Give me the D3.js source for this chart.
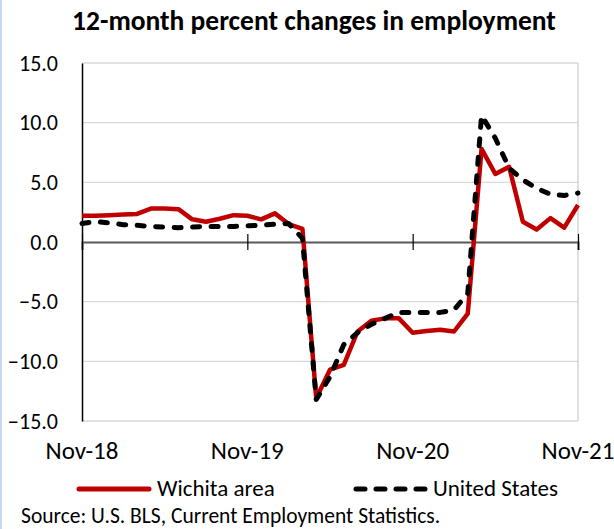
<!DOCTYPE html>
<html>
<head>
<meta charset="utf-8">
<title>12-month percent changes in employment</title>
<script src="https://d3js.org/d3.v7.min.js"></script>
<style>
  body { margin: 0; background: #fff; }
  text { font-family: Carlito, Calibri, Lato, sans-serif; fill: #000; }
</style>
</head>
<body>
<svg width="614" height="529"></svg>
<script>
// months Nov-18 .. Nov-21
var months = d3.range(37);
var tickMonths = [0, 12, 24, 36];
var tickLabels = ["Nov-18", "Nov-19", "Nov-20", "Nov-21"];
var yTicks = [-15, -10, -5, 0, 5, 10, 15];

var wichita = [2.2, 2.2, 2.25, 2.3, 2.35, 2.8, 2.8, 2.75, 1.9, 1.7, 1.95, 2.25, 2.2, 1.9, 2.4, 1.5, 1.1,
  -13.1, -10.7, -10.3, -7.5, -6.6, -6.4, -6.4, -7.6, -7.45, -7.35, -7.5, -6.0,
  7.8, 5.7, 6.3, 1.7, 1.05, 2.0, 1.2, 3.1];
var us = [1.55, 1.7, 1.6, 1.45, 1.4, 1.3, 1.25, 1.2, 1.25, 1.3, 1.3, 1.3, 1.35, 1.4, 1.5, 1.55, 0.3,
  -13.2, -11.3, -8.6, -7.6, -6.9, -6.4, -5.9, -5.9, -5.9, -5.9, -5.7, -4.3,
  10.6, 8.7, 6.2, 5.2, 4.5, 4.0, 3.9, 4.1];

var svg = d3.select("svg");

// thin blue edge on the left
svg.append("rect").attr("x", 0).attr("y", 0).attr("width", 2).attr("height", 529).attr("fill", "#c6d9f1");

var x = d3.scaleLinear().domain([0, 36]).range([82, 578]);
var y = d3.scaleLinear().domain([-15, 15]).range([421, 63]);

svg.append("text")
    .attr("x", 314).attr("y", 30)
    .attr("text-anchor", "middle")
    .attr("font-size", 27.5).attr("font-weight", "bold")
    .text("12-month percent changes in employment");

// gridlines
svg.append("g").selectAll("line")
  .data(yTicks.filter(function(d) { return d != 0; }))
  .enter().append("line")
    .attr("x1", x(0)).attr("x2", x(36))
    .attr("y1", function(d) { return y(d); })
    .attr("y2", function(d) { return y(d); })
    .attr("stroke", "#d9d9d9").attr("stroke-width", 1.3);

// right border
svg.append("line")
    .attr("x1", x(36)).attr("x2", x(36)).attr("y1", y(15)).attr("y2", y(-15))
    .attr("stroke", "#d0d0d0").attr("stroke-width", 1.3);

// y axis
var yAxis = svg.append("g")
    .attr("transform", "translate(" + x(0) + ",0)")
    .call(d3.axisLeft(y).tickValues(yTicks).tickSize(0).tickPadding(24).tickFormat(d3.format(".1f")));
yAxis.select(".domain").attr("stroke", "#000").attr("stroke-width", 1.5);
yAxis.selectAll("text").attr("font-size", 22).attr("font-family", "Carlito, Calibri, Lato, sans-serif");

// zero axis with ticks
var xAxis = svg.append("g")
    .attr("transform", "translate(0," + y(0) + ")")
    .call(d3.axisBottom(x).tickValues(tickMonths).tickSize(8).tickFormat(""));
xAxis.select(".domain").attr("stroke", "#595959").attr("stroke-width", 2);
xAxis.selectAll(".tick line").attr("y1", -8).attr("stroke", "#000").attr("stroke-width", 1.2);

svg.append("g").selectAll("text")
  .data(tickMonths)
  .enter().append("text")
    .attr("x", function(d) { return x(d); })
    .attr("y", 459)
    .attr("text-anchor", "middle")
    .attr("font-size", 25)
    .text(function(d, i) { return tickLabels[i]; });

var line = d3.line()
    .x(function(d, i) { return x(months[i]); })
    .y(function(d) { return y(d); });

svg.append("path")
    .datum(wichita)
    .attr("fill", "none")
    .attr("stroke", "#c00000")
    .attr("stroke-width", 4.5)
    .attr("stroke-linejoin", "round")
    .attr("d", line);

svg.append("path")
    .datum(us)
    .attr("fill", "none")
    .attr("stroke", "#000")
    .attr("stroke-width", 5)
    .attr("stroke-linecap", "round")
    .attr("stroke-linejoin", "round")
    .attr("stroke-dasharray", "7,11.5")
    .attr("d", line);

// legend
var lg = svg.append("g");
lg.append("line").attr("x1", 79).attr("x2", 149).attr("y1", 489).attr("y2", 489)
    .attr("stroke", "#c00000").attr("stroke-width", 5).attr("stroke-linecap", "round");
lg.append("text").attr("x", 157).attr("y", 496).attr("font-size", 23).text("Wichita area");
lg.append("line").attr("x1", 356).attr("x2", 426).attr("y1", 489).attr("y2", 489)
    .attr("stroke", "#000").attr("stroke-width", 5).attr("stroke-linecap", "round")
    .attr("stroke-dasharray", "9,11");
lg.append("text").attr("x", 433).attr("y", 496).attr("font-size", 23).text("United States");

svg.append("text")
    .attr("x", 21).attr("y", 523)
    .attr("font-size", 21.5)
    .text("Source: U.S. BLS, Current Employment Statistics.");
</script>
</body>
</html>
